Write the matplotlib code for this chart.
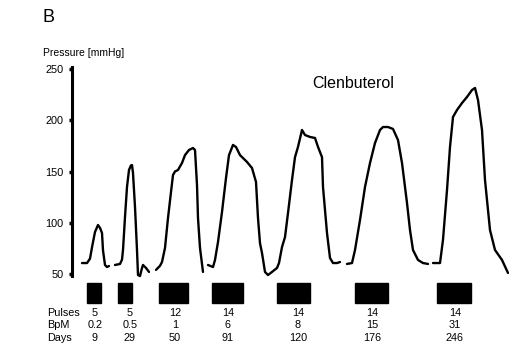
import numpy as np
import matplotlib.pyplot as plt
from matplotlib.patches import Rectangle

plt.rcParams['font.family'] = ['Liberation Sans', 'DejaVu Sans']

# time axis is arbitrary (recording time, a.u.); pressure in mmHg
# trace 1 (5 pulses, 0.2 BpM)
t1 = [82, 87, 90, 92, 95, 98, 100, 102, 103, 105, 107, 109]
p1 = [60.7, 60.7, 65, 76, 91, 97.8, 95, 90, 73, 58.8, 56.8, 57.8]
# trace 2 (5 pulses, 0.5 BpM)
t2 = [115, 120, 122, 123, 125, 127, 129, 131, 132, 133, 135, 137, 138, 140, 142, 143, 146, 149]
p2 = [58.8, 59.8, 64, 73.4, 105.6, 134.9, 151.5, 156, 156.3, 148.5, 115.4, 73.4, 49, 48,
      55.9, 58.8, 55.9, 52]
# trace 3 (12 pulses, 1 BpM)
t3 = [156, 160, 162, 165, 168, 171, 173, 175, 178, 182, 185, 189, 193, 195, 197, 198, 200, 203]
p3 = [54, 58, 61.7, 75.4, 104.6, 130, 146.6, 150, 151.5, 158.3, 166, 171, 172.9, 171,
      136.8, 104.6, 75.4, 52]
# traces 4 + 5 (14 pulses, 6 and 8 BpM) - recorded as one segment
t4 = [208, 213, 215, 218, 222, 226, 229, 233, 236, 240, 247, 252, 256, 258, 260, 262,
      265, 268, 272, 277, 279, 282, 285, 288, 292, 295, 298, 302, 305, 310, 315, 318,
      322, 323, 327, 330, 333, 337, 340]
p4 = [58.8, 56.8, 63.7, 81.2, 110.5, 143.7, 166, 175.9, 173.9, 166, 159.3, 153.4, 139.8,
      104.6, 80, 70.5, 52, 49, 52, 55.9, 60.7, 76.3, 86, 109.5, 141.7, 164, 174, 190.5,
      185.6, 183.7, 182.7, 174, 164, 134.9, 90, 65.6, 60.7, 60.7, 61.7]
# trace 6 (14 pulses, 15 BpM)
t6 = [347, 352, 355, 360, 365, 370, 375, 380, 383, 388, 393, 398, 402, 407, 410, 413,
      418, 423, 428]
p6 = [59.8, 60.7, 73.4, 102.7, 134.9, 158.3, 177.8, 190.5, 193.4, 193.4, 191.5, 180.7,
      158.3, 119.3, 92.9, 73.4, 63.7, 60.7, 59.8]
# trace 7 (14 pulses, 31 BpM)
t7 = [433, 440, 443, 447, 450, 453, 457, 462, 467, 472, 475, 478, 482, 485, 490, 495,
      502, 508]
p7 = [60.7, 60.7, 83.4, 131.9, 173.9, 203.2, 210, 216.8, 222.7, 229.5, 231.5, 219.8,
      190.5, 141.7, 92.9, 73.4, 63.7, 51]

traces = [(t1, p1), (t2, p2), (t3, p3), (t4, p4), (t6, p6), (t7, p7)]

# stimulation periods
stim_start = [87, 118, 159, 212, 277, 355, 437]
stim_end = [101, 132, 188, 243, 310, 388, 471]

# table under the traces
row_names = ["Pulses", "BpM", "Days"]
pulses = ["5", "5", "12", "14", "14", "14", "14"]
bpm = ["0.2", "0.5", "1", "6", "8", "15", "31"]
days = ["9", "29", "50", "91", "120", "176", "246"]
col_x = [95, 130, 175, 228, 298, 372, 455]

fig = plt.figure(figsize=(5.10, 3.47), dpi=100)
ax = fig.add_axes([72 / 510, 73 / 347, 438 / 510, 205 / 347])
ax.set_xlim(72, 510)
ax.set_ylim(50, 250)

for t, p in traces:
    ax.plot(t, p, color='black', lw=1.7, solid_capstyle='round',
            solid_joinstyle='round', clip_on=False)

# stimulation bars below the axis
for s, e in zip(stim_start, stim_end):
    ax.add_patch(Rectangle((s, 21.5), e - s, 19.5, facecolor='black',
                           edgecolor='black', clip_on=False))

# table rows
row_y = [12, 0.3, -12.2]
for name, vals, y in zip(row_names, [pulses, bpm, days], row_y):
    ax.text(47, y, name, fontsize=7.8, ha='left', va='center', clip_on=False)
    for xv, v in zip(col_x, vals):
        ax.text(xv, y, v, fontsize=7.8, ha='center', va='center', clip_on=False)

# axis styling
for side in ['top', 'right', 'bottom']:
    ax.spines[side].set_visible(False)
ax.spines['left'].set_linewidth(2.2)
ax.spines['left'].set_bounds(48, 252)
ax.set_yticks([50, 100, 150, 200, 250])
ax.set_xticks([])
ax.tick_params(axis='y', direction='out', length=2, width=2.5, pad=4, labelsize=7.8)

ax.text(312, 236, "Clenbuterol", fontsize=11.5, ha='left', va='center')

fig.text(43 / 510, 1 - 53 / 347, "Pressure [mmHg]", fontsize=7.5, ha='left', va='center')
fig.text(43 / 510, 1 - 18 / 347, "B", fontsize=13, ha='left', va='center')

fig.savefig('out.png', dpi=100)
